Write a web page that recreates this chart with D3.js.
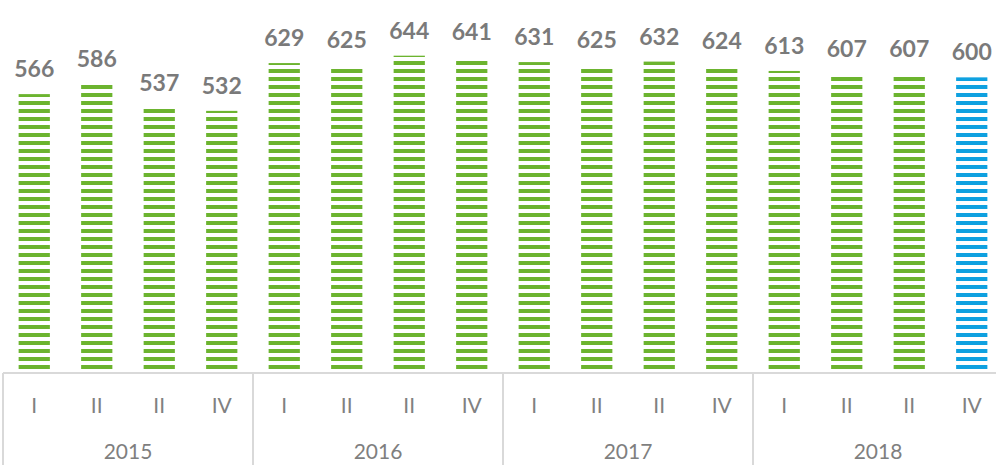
<!DOCTYPE html>
<html>
<head>
<meta charset="utf-8">
<script src="https://cdn.jsdelivr.net/npm/d3@7"></script>
<style>
  body { margin: 0; background: #fff; }
  svg { display: block; font-family: Lato, "Noto Sans", sans-serif; }
  .val { font-weight: bold; fill: #7a7a7a; font-size: 23px; }
  .qtr { fill: #808080; font-size: 21px; }
  .yr { fill: #7f7f7f; font-size: 21px; }
  .rule { stroke: #d9d9d9; stroke-width: 2; }
</style>
</head>
<body>
<div id="chart"></div>
<script>
// data
var years = ["2015", "2016", "2017", "2018"];
var quarters = ["I", "II", "II", "IV"];
var values = [566, 586, 537, 532, 629, 625, 644, 641, 631, 625, 632, 624, 613, 607, 607, 600];

var width = 996, height = 465;
var baseY = 373;

var svg = d3.select("#chart").append("svg")
    .attr("width", width)
    .attr("height", height);

// categories: one per quarter
var cats = [];
years.forEach(function(y) {
    quarters.forEach(function(q, i) { cats.push(y + "-" + i); });
});

var x = d3.scaleBand()
    .domain(cats)
    .range([3, 1003])
    .paddingInner(0.5)
    .paddingOuter(0.25);

var xYear = d3.scaleBand()
    .domain(years)
    .range([3, 1003]);

var y = d3.scaleLinear()
    .domain([0, 757])
    .range([baseY, 0]);

// striped fills
var defs = svg.append("defs");
function stripes(id, color) {
    var p = defs.append("pattern")
        .attr("id", id)
        .attr("patternUnits", "userSpaceOnUse")
        .attr("width", 8)
        .attr("height", 8);
    p.append("rect")
        .attr("x", 0).attr("y", 5)
        .attr("width", 8).attr("height", 4)
        .attr("fill", color);
    p.append("rect")
        .attr("x", 0).attr("y", -3)
        .attr("width", 8).attr("height", 4)
        .attr("fill", color);
}
stripes("green-stripes", "#6cb42f");
stripes("blue-stripes", "#0fa1e0");

// bars
svg.selectAll(".bar")
    .data(values)
    .enter()
    .append("rect")
    .attr("class", "bar")
    .attr("x", function(d, i) { return x(cats[i]); })
    .attr("y", function(d) { return y(d); })
    .attr("width", x.bandwidth())
    .attr("height", function(d) { return baseY - y(d); })
    .attr("fill", function(d, i) { return i == values.length - 1 ? "url(#blue-stripes)" : "url(#green-stripes)"; });

// value labels
svg.selectAll(".val")
    .data(values)
    .enter()
    .append("text")
    .attr("class", "val")
    .attr("text-anchor", "middle")
    .attr("x", function(d, i) { return x(cats[i]) + x.bandwidth() / 2; })
    .attr("y", function(d) { return y(d) - 17; })
    .text(function(d) { return d; });

// axis line
svg.append("line")
    .attr("class", "rule")
    .attr("x1", 3).attr("x2", width)
    .attr("y1", baseY).attr("y2", baseY);

// year separators
years.forEach(function(yr) {
    svg.append("line")
        .attr("class", "rule")
        .attr("x1", xYear(yr)).attr("x2", xYear(yr))
        .attr("y1", baseY).attr("y2", height);
});

// quarter labels
svg.selectAll(".qtr")
    .data(cats)
    .enter()
    .append("text")
    .attr("class", "qtr")
    .attr("text-anchor", "middle")
    .attr("x", function(d) { return x(d) + x.bandwidth() / 2; })
    .attr("y", 413)
    .text(function(d) { return quarters[+d.split("-")[1]]; });

// year labels
svg.selectAll(".yr")
    .data(years)
    .enter()
    .append("text")
    .attr("class", "yr")
    .attr("text-anchor", "middle")
    .attr("x", function(d) { return xYear(d) + xYear.bandwidth() / 2; })
    .attr("y", 459)
    .text(function(d) { return d; });
</script>
</body>
</html>
